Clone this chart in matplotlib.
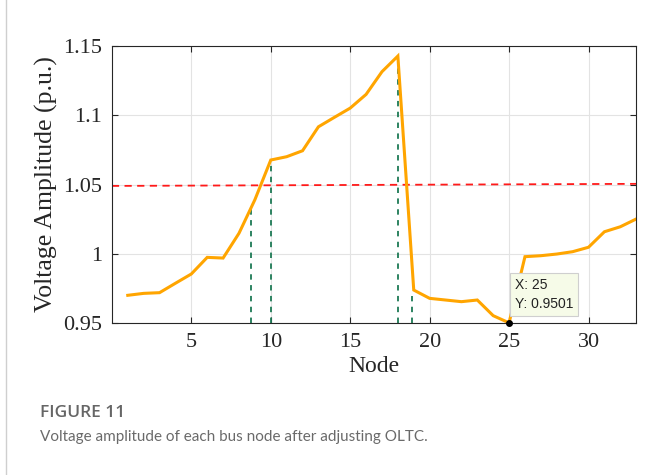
import numpy as np
import matplotlib
matplotlib.use("Agg")
import matplotlib.pyplot as plt
from matplotlib.lines import Line2D

# bus voltage after OLTC adjustment
node = np.arange(1, 34)
voltage = [0.970, 0.9714, 0.9719, 0.9787, 0.9854, 0.9974, 0.9969, 1.0148, 1.039, 1.0677,
           1.0701, 1.0744, 1.0917, 1.0985, 1.1052, 1.1151, 1.1315, 1.1428, 0.9738, 0.9678,
           0.9666, 0.9654, 0.9666, 0.9553, 0.9501, 0.9979, 0.9986, 0.9998, 1.0015, 1.0047,
           1.0159, 1.0195, 1.0251]
limit_x = [0, 33]
limit_y = [1.049, 1.0505]
# vertical markers (node, voltage at top)
mark_x = [8.74, 10, 18, 18.87]
mark_y = [1.0328, 1.0677, 1.1428, 0.9697]
tip_node, tip_val = 25, 0.9501

yticks = [0.95, 1.0, 1.05, 1.1, 1.15]
ytick_labels = ["0.95", "1", "1.05", "1.1", "1.15"]
xticks = [5, 10, 15, 20, 25, 30]

serif = ["Liberation Serif", "DejaVu Serif"]
fig = plt.figure(figsize=(6.62, 4.75), dpi=100)
ax = fig.add_axes([0.169, 0.32, 0.792, 0.583])

ax.grid(True, color="#e3e3e3", linewidth=0.8)
ax.set_axisbelow(True)

ax.plot(limit_x, limit_y, color="#ff1a1a", linestyle=(0, (4, 3)), linewidth=1.3)
for mx, my in zip(mark_x, mark_y):
    ax.plot([mx, mx], [0.95, my], color="#1d7a55", linestyle=(0, (3, 3)), linewidth=1.3)
ax.plot(node, voltage, color="#ffa500", linewidth=2.2, solid_joinstyle="miter")
ax.plot([tip_node], [tip_val], "o", color="black", markersize=4, clip_on=False, zorder=5)

ax.text(tip_node + 0.35, 0.9707, f"X: {tip_node}\nY: {tip_val}", fontsize=10,
        family="Liberation Sans", color="#222222", va="center", ha="left", linespacing=1.45,
        bbox=dict(boxstyle="square,pad=0.35", facecolor="#f6fbe8", edgecolor="#cfcfcf", linewidth=0.8))

ax.set_xlim(0, 33)
ax.set_ylim(0.95, 1.15)
ax.set_xticks(xticks)
ax.set_yticks(yticks)
ax.set_yticklabels(ytick_labels)
ax.tick_params(direction="in", length=4, width=0.8, colors="#262626", top=True, right=True,
               labelsize=16, pad=7)
for lab in ax.get_xticklabels() + ax.get_yticklabels():
    lab.set_family(serif)
for s in ax.spines.values():
    s.set_color("#262626")
    s.set_linewidth(0.8)

ax.set_xlabel("Node", fontsize=17, family=serif, color="#262626", labelpad=3)
ax.set_ylabel("Voltage Amplitude (p.u.)", fontsize=18.5, family=serif, color="#262626", labelpad=4)

# caption
fig.add_artist(Line2D([0.009, 0.009], [0, 1], color="#cfcfcf", linewidth=1, transform=fig.transFigure))
fig.text(0.06, 1 - 413 / 475, "FIGURE 11", fontsize=12.5, family="Open Sans", weight="semibold",
         color="#666666", va="center")
fig.text(0.06, 1 - 437 / 475, "Voltage amplitude of each bus node after adjusting OLTC.",
         fontsize=11, family="Lato", color="#6a6a6a", va="center")

fig.savefig("out.png", dpi=100)
